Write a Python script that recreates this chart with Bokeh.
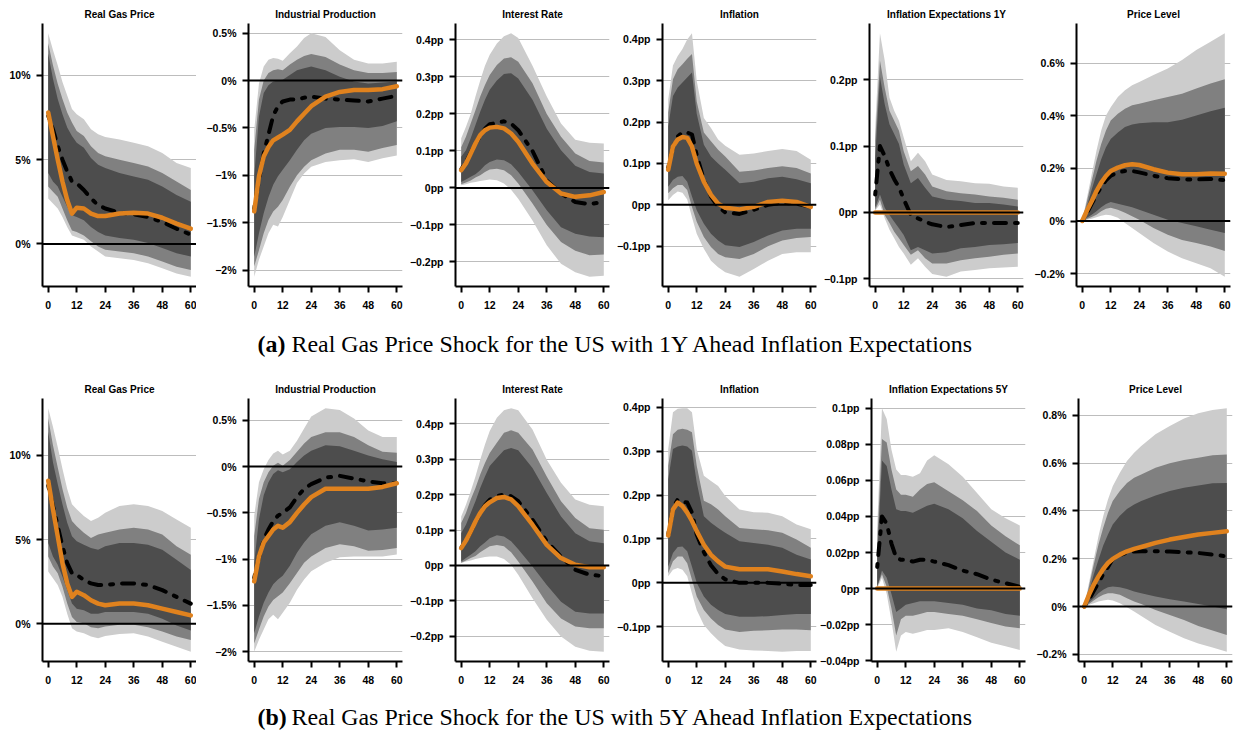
from bokeh.plotting import figure
from bokeh.layouts import column, row
from bokeh.models import Range1d, FixedTicker, Span
from bokeh.embed import file_html
from bokeh.resources import INLINE
from bokeh.core.properties import value

# Horizon (months after the shock)
H = [0, 2, 4, 6, 8, 10, 12, 15, 18, 21, 24, 30, 36, 42, 48, 54, 60]
X_TICKS = [0, 12, 24, 36, 48, 60]

# ---------------- (a) model with 1Y ahead inflation expectations ----------------
gas_1y_hi95 = [12.5, 11.5, 10.6, 9.6, 8.8, 8.0, 7.7, 7.4, 6.8, 6.5, 6.35, 6.2, 6.0, 5.8, 5.4, 4.8, 4.5]
gas_1y_hi90 = [11.9, 10.6, 9.5, 8.6, 7.8, 7.2, 6.7, 6.4, 5.8, 5.4, 5.2, 5.0, 4.8, 4.6, 4.2, 3.7, 3.2]
gas_1y_hi68 = [11.3, 9.8, 8.6, 7.7, 6.9, 6.4, 6.0, 5.7, 5.1, 4.7, 4.5, 4.2, 4.0, 3.8, 3.4, 2.9, 2.5]
gas_1y_lo68 = [4.2, 3.7, 3.4, 2.8, 2.2, 1.7, 1.6, 1.4, 1.0, 0.7, 0.5, 0.35, 0.25, 0.05, -0.25, -0.55, -0.75]
gas_1y_lo90 = [3.4, 3.1, 2.8, 2.1, 1.4, 0.8, 0.7, 0.5, 0.15, -0.15, -0.35, -0.45, -0.55, -0.75, -1.05, -1.35, -1.55]
gas_1y_lo95 = [2.7, 2.4, 2.1, 1.6, 1.0, 0.5, 0.4, 0.25, -0.15, -0.45, -0.75, -0.85, -0.95, -1.15, -1.45, -1.75, -1.95]
gas_1y_med = [7.6, 6.8, 5.8, 5.0, 4.3, 3.7, 3.6, 3.2, 2.7, 2.3, 2.1, 1.85, 1.75, 1.6, 1.3, 0.9, 0.55]
gas_1y_cf = [7.8, 6.4, 5.0, 3.7, 2.6, 1.8, 2.15, 2.1, 1.8, 1.65, 1.65, 1.8, 1.85, 1.8, 1.55, 1.2, 0.9]

ip_1y_hi95 = [-0.52, -0.03, 0.15, 0.22, 0.24, 0.23, 0.21, 0.29, 0.36, 0.45, 0.5, 0.46, 0.32, 0.22, 0.18, 0.18, 0.2]
ip_1y_hi90 = [-0.73, -0.2, 0.0, 0.08, 0.11, 0.12, 0.11, 0.17, 0.22, 0.26, 0.28, 0.25, 0.17, 0.11, 0.08, 0.08, 0.09]
ip_1y_hi68 = [-1.01, -0.38, -0.13, -0.05, -0.01, 0.0, 0.01, 0.06, 0.11, 0.13, 0.15, 0.11, 0.04, -0.01, -0.03, -0.02, -0.01]
ip_1y_lo68 = [-1.86, -1.61, -1.40, -1.23, -1.10, -1.01, -0.94, -0.84, -0.73, -0.63, -0.56, -0.50, -0.49, -0.49, -0.50, -0.48, -0.43]
ip_1y_lo90 = [-1.96, -1.79, -1.61, -1.47, -1.38, -1.33, -1.26, -1.12, -1.0, -0.91, -0.84, -0.77, -0.73, -0.73, -0.75, -0.71, -0.68]
ip_1y_lo95 = [-2.07, -1.89, -1.75, -1.61, -1.52, -1.54, -1.44, -1.26, -1.08, -0.98, -0.91, -0.86, -0.84, -0.83, -0.86, -0.82, -0.79]
ip_1y_med = [-1.35, -1.05, -0.77, -0.57, -0.37, -0.27, -0.22, -0.20, -0.20, -0.18, -0.17, -0.19, -0.20, -0.21, -0.22, -0.19, -0.16]
ip_1y_cf = [-1.38, -1.01, -0.80, -0.70, -0.63, -0.60, -0.57, -0.52, -0.43, -0.35, -0.27, -0.17, -0.12, -0.10, -0.10, -0.09, -0.06]

rate_1y_hi95 = [0.134, 0.165, 0.2, 0.247, 0.29, 0.33, 0.36, 0.39, 0.41, 0.418, 0.405, 0.33, 0.247, 0.174, 0.13, 0.122, 0.12]
rate_1y_hi90 = [0.11, 0.138, 0.174, 0.21, 0.247, 0.278, 0.305, 0.332, 0.35, 0.353, 0.341, 0.283, 0.2, 0.138, 0.093, 0.073, 0.069]
rate_1y_hi68 = [0.084, 0.102, 0.134, 0.17, 0.206, 0.238, 0.265, 0.29, 0.308, 0.31, 0.296, 0.238, 0.16, 0.102, 0.06, 0.043, 0.039]
rate_1y_lo68 = [0.016, 0.023, 0.03, 0.037, 0.048, 0.061, 0.07, 0.077, 0.075, 0.064, 0.043, -0.006, -0.06, -0.106, -0.124, -0.131, -0.133]
rate_1y_lo90 = [0.01, 0.015, 0.02, 0.028, 0.034, 0.043, 0.05, 0.052, 0.048, 0.034, 0.012, -0.042, -0.1, -0.146, -0.17, -0.182, -0.18]
rate_1y_lo95 = [0.007, 0.01, 0.014, 0.016, 0.019, 0.021, 0.023, 0.021, 0.012, -0.005, -0.029, -0.088, -0.155, -0.205, -0.228, -0.24, -0.237]
rate_1y_med = [0.05, 0.07, 0.095, 0.12, 0.14, 0.16, 0.172, 0.176, 0.18, 0.174, 0.156, 0.1, 0.02, -0.015, -0.038, -0.044, -0.037]
rate_1y_cf = [0.048, 0.066, 0.093, 0.12, 0.143, 0.156, 0.163, 0.165, 0.161, 0.147, 0.125, 0.066, 0.016, -0.015, -0.024, -0.02, -0.011]

infl_1y_hi95 = [0.255, 0.337, 0.36, 0.377, 0.4, 0.415, 0.30, 0.21, 0.186, 0.158, 0.143, 0.121, 0.124, 0.13, 0.135, 0.13, 0.109]
infl_1y_hi90 = [0.223, 0.304, 0.328, 0.34, 0.353, 0.365, 0.25, 0.175, 0.154, 0.133, 0.117, 0.08, 0.083, 0.089, 0.093, 0.089, 0.076]
infl_1y_hi68 = [0.19, 0.263, 0.284, 0.296, 0.308, 0.32, 0.22, 0.145, 0.117, 0.1, 0.085, 0.052, 0.056, 0.064, 0.068, 0.062, 0.052]
infl_1y_lo68 = [0.044, 0.06, 0.068, 0.07, 0.056, 0.02, -0.013, -0.046, -0.07, -0.086, -0.098, -0.102, -0.09, -0.074, -0.062, -0.058, -0.058]
infl_1y_lo90 = [0.028, 0.04, 0.048, 0.048, 0.036, -0.005, -0.041, -0.078, -0.102, -0.119, -0.127, -0.131, -0.119, -0.1, -0.086, -0.08, -0.078]
infl_1y_lo95 = [0.011, 0.024, 0.032, 0.029, 0.013, -0.03, -0.07, -0.106, -0.135, -0.151, -0.163, -0.174, -0.155, -0.135, -0.119, -0.115, -0.115]
infl_1y_med = [0.09, 0.14, 0.165, 0.175, 0.175, 0.17, 0.12, 0.06, 0.02, -0.005, -0.018, -0.022, -0.012, 0.0, 0.005, 0.003, -0.005]
infl_1y_cf = [0.085, 0.141, 0.158, 0.164, 0.162, 0.141, 0.1, 0.056, 0.024, 0.003, -0.007, -0.011, -0.005, 0.007, 0.01, 0.007, -0.005]

exp_1y_hi95 = [0.128, 0.27, 0.229, 0.173, 0.153, 0.138, 0.113, 0.077, 0.09, 0.077, 0.057, 0.049, 0.047, 0.044, 0.043, 0.039, 0.037]
exp_1y_hi90 = [0.108, 0.229, 0.188, 0.153, 0.138, 0.123, 0.092, 0.062, 0.07, 0.057, 0.039, 0.032, 0.029, 0.027, 0.024, 0.022, 0.019]
exp_1y_hi68 = [0.082, 0.204, 0.163, 0.133, 0.118, 0.103, 0.072, 0.044, 0.052, 0.037, 0.024, 0.019, 0.017, 0.014, 0.014, 0.012, 0.009]
exp_1y_lo68 = [0.007, 0.027, 0.007, -0.004, -0.014, -0.024, -0.034, -0.057, -0.052, -0.057, -0.062, -0.06, -0.054, -0.052, -0.049, -0.048, -0.046]
exp_1y_lo90 = [0.004, 0.019, -0.004, -0.016, -0.029, -0.039, -0.049, -0.064, -0.057, -0.069, -0.077, -0.077, -0.072, -0.069, -0.067, -0.064, -0.062]
exp_1y_lo95 = [0.003, 0.012, -0.009, -0.026, -0.039, -0.052, -0.062, -0.079, -0.069, -0.082, -0.093, -0.097, -0.089, -0.087, -0.084, -0.083, -0.082]
exp_1y_med = [0.027, 0.1, 0.085, 0.065, 0.05, 0.038, 0.02, -0.004, -0.009, -0.014, -0.018, -0.022, -0.019, -0.016, -0.016, -0.016, -0.016]
exp_1y_cf = [0.0, 0.0, 0.0, 0.0, 0.0, 0.0, 0.0, 0.0, 0.0, 0.0, 0.0, 0.0, 0.0, 0.0, 0.0, 0.0, 0.0]

price_1y_hi95 = [0.0, 0.088, 0.178, 0.267, 0.344, 0.401, 0.433, 0.472, 0.497, 0.516, 0.529, 0.555, 0.58, 0.612, 0.65, 0.682, 0.714]
price_1y_hi90 = [0.0, 0.075, 0.152, 0.229, 0.293, 0.344, 0.382, 0.408, 0.427, 0.44, 0.446, 0.459, 0.472, 0.484, 0.504, 0.523, 0.539]
price_1y_hi68 = [0.0, 0.056, 0.12, 0.178, 0.235, 0.28, 0.312, 0.337, 0.357, 0.367, 0.372, 0.376, 0.376, 0.385, 0.401, 0.417, 0.431]
price_1y_lo68 = [0.0, 0.012, 0.024, 0.037, 0.052, 0.065, 0.072, 0.066, 0.059, 0.052, 0.043, 0.024, 0.005, -0.008, -0.02, -0.033, -0.046]
price_1y_lo90 = [0.0, 0.008, 0.015, 0.024, 0.037, 0.047, 0.05, 0.043, 0.031, 0.018, 0.005, -0.027, -0.052, -0.072, -0.084, -0.097, -0.114]
price_1y_lo95 = [0.0, 0.005, 0.009, 0.014, 0.02, 0.024, 0.022, 0.012, -0.008, -0.027, -0.046, -0.084, -0.116, -0.142, -0.161, -0.18, -0.212]
price_1y_med = [0.0, 0.03, 0.065, 0.1, 0.13, 0.155, 0.172, 0.185, 0.19, 0.19, 0.185, 0.172, 0.163, 0.158, 0.158, 0.16, 0.155]
price_1y_cf = [0.0, 0.04, 0.075, 0.114, 0.146, 0.171, 0.19, 0.203, 0.212, 0.216, 0.213, 0.197, 0.184, 0.178, 0.178, 0.181, 0.18]

# ---------------- (b) model with 5Y ahead inflation expectations ----------------
gas_5y_hi95 = [12.8, 11.7, 10.5, 9.2, 8.0, 7.1, 6.8, 6.4, 6.1, 6.3, 6.6, 7.0, 7.1, 7.0, 6.7, 6.2, 5.7]
gas_5y_hi90 = [12.2, 10.6, 9.3, 8.0, 6.9, 6.1, 5.8, 5.4, 5.1, 5.3, 5.4, 5.6, 5.7, 5.6, 5.3, 4.6, 4.1]
gas_5y_hi68 = [11.4, 9.6, 8.3, 7.1, 6.0, 5.2, 4.9, 4.7, 4.5, 4.4, 4.6, 4.8, 4.8, 4.7, 4.4, 3.8, 3.2]
gas_5y_lo68 = [4.8, 4.0, 3.5, 2.8, 2.0, 1.2, 0.9, 0.8, 0.6, 0.6, 0.7, 0.7, 0.7, 0.6, 0.3, -0.1, -0.4]
gas_5y_lo90 = [4.0, 3.4, 3.0, 2.2, 1.2, 0.4, 0.1, 0.04, -0.2, -0.26, -0.16, -0.06, -0.06, -0.2, -0.46, -0.76, -0.96]
gas_5y_lo95 = [3.1, 2.7, 2.3, 1.6, 0.6, -0.26, -0.46, -0.56, -0.76, -0.86, -0.72, -0.6, -0.56, -0.76, -1.06, -1.36, -1.66]
gas_5y_med = [8.2, 7.0, 5.8, 4.6, 3.6, 3.0, 2.9, 2.6, 2.4, 2.3, 2.3, 2.4, 2.4, 2.3, 2.0, 1.6, 1.2]
gas_5y_cf = [8.5, 6.8, 5.2, 3.6, 2.4, 1.6, 1.9, 1.7, 1.4, 1.2, 1.1, 1.2, 1.2, 1.1, 0.9, 0.7, 0.5]

ip_5y_hi95 = [-0.53, -0.17, -0.03, 0.07, 0.14, 0.17, 0.13, 0.17, 0.28, 0.41, 0.54, 0.63, 0.61, 0.52, 0.39, 0.32, 0.32]
ip_5y_hi90 = [-0.75, -0.35, -0.17, -0.06, 0.01, 0.04, 0.01, 0.07, 0.16, 0.25, 0.32, 0.37, 0.37, 0.32, 0.23, 0.16, 0.15]
ip_5y_hi68 = [-1.04, -0.57, -0.31, -0.17, -0.08, -0.04, -0.06, -0.03, 0.05, 0.12, 0.17, 0.23, 0.22, 0.17, 0.12, 0.08, 0.05]
ip_5y_lo68 = [-1.80, -1.62, -1.47, -1.36, -1.27, -1.22, -1.18, -1.07, -0.93, -0.82, -0.73, -0.64, -0.60, -0.64, -0.69, -0.68, -0.66]
ip_5y_lo90 = [-1.91, -1.76, -1.62, -1.51, -1.44, -1.40, -1.36, -1.26, -1.15, -1.04, -0.97, -0.88, -0.84, -0.86, -0.91, -0.90, -0.88]
ip_5y_lo95 = [-2.0, -1.87, -1.76, -1.65, -1.6, -1.65, -1.58, -1.47, -1.33, -1.22, -1.13, -1.04, -0.98, -0.97, -0.97, -0.97, -0.95]
ip_5y_med = [-1.2, -0.98, -0.79, -0.68, -0.59, -0.53, -0.50, -0.44, -0.33, -0.24, -0.19, -0.12, -0.10, -0.13, -0.16, -0.18, -0.18]
ip_5y_cf = [-1.24, -0.97, -0.82, -0.75, -0.68, -0.64, -0.66, -0.60, -0.50, -0.41, -0.33, -0.24, -0.24, -0.24, -0.24, -0.22, -0.18]

rate_5y_hi95 = [0.138, 0.171, 0.209, 0.251, 0.298, 0.341, 0.379, 0.416, 0.437, 0.443, 0.437, 0.383, 0.298, 0.233, 0.186, 0.171, 0.167]
rate_5y_hi90 = [0.12, 0.148, 0.186, 0.218, 0.256, 0.289, 0.317, 0.346, 0.374, 0.381, 0.374, 0.327, 0.251, 0.181, 0.134, 0.105, 0.101]
rate_5y_hi68 = [0.091, 0.115, 0.148, 0.181, 0.218, 0.251, 0.28, 0.303, 0.325, 0.331, 0.325, 0.275, 0.204, 0.138, 0.091, 0.068, 0.063]
rate_5y_lo68 = [0.011, 0.021, 0.03, 0.04, 0.054, 0.065, 0.077, 0.085, 0.082, 0.068, 0.046, -0.003, -0.055, -0.102, -0.13, -0.135, -0.135]
rate_5y_lo90 = [0.008, 0.014, 0.021, 0.027, 0.037, 0.046, 0.054, 0.058, 0.054, 0.037, 0.011, -0.045, -0.106, -0.149, -0.172, -0.177, -0.177]
rate_5y_lo95 = [0.007, 0.011, 0.014, 0.018, 0.021, 0.024, 0.025, 0.025, 0.018, 0.002, -0.026, -0.092, -0.153, -0.2, -0.229, -0.24, -0.243]
rate_5y_med = [0.05, 0.07, 0.095, 0.122, 0.148, 0.17, 0.185, 0.195, 0.2, 0.195, 0.181, 0.129, 0.068, 0.025, -0.012, -0.026, -0.03]
rate_5y_cf = [0.049, 0.07, 0.096, 0.124, 0.148, 0.167, 0.178, 0.19, 0.193, 0.186, 0.167, 0.115, 0.058, 0.021, 0.002, -0.005, -0.005]

infl_5y_hi95 = [0.305, 0.389, 0.397, 0.398, 0.398, 0.389, 0.305, 0.244, 0.232, 0.221, 0.198, 0.167, 0.161, 0.16, 0.152, 0.133, 0.122]
infl_5y_hi90 = [0.267, 0.339, 0.349, 0.351, 0.349, 0.343, 0.267, 0.187, 0.179, 0.167, 0.152, 0.125, 0.122, 0.12, 0.114, 0.099, 0.08]
infl_5y_hi68 = [0.236, 0.305, 0.311, 0.313, 0.311, 0.301, 0.229, 0.152, 0.137, 0.125, 0.114, 0.095, 0.091, 0.087, 0.08, 0.064, 0.053]
infl_5y_lo68 = [0.037, 0.068, 0.082, 0.083, 0.072, 0.037, 0.0, -0.031, -0.05, -0.062, -0.071, -0.077, -0.077, -0.076, -0.073, -0.071, -0.071]
infl_5y_lo90 = [0.022, 0.049, 0.06, 0.06, 0.045, 0.007, -0.031, -0.062, -0.081, -0.096, -0.106, -0.112, -0.109, -0.108, -0.106, -0.106, -0.108]
infl_5y_lo95 = [0.015, 0.03, 0.034, 0.03, 0.015, -0.024, -0.062, -0.096, -0.115, -0.131, -0.144, -0.152, -0.154, -0.155, -0.157, -0.155, -0.155]
infl_5y_med = [0.11, 0.17, 0.19, 0.185, 0.183, 0.16, 0.11, 0.07, 0.04, 0.02, 0.008, 0.0, 0.0, 0.0, -0.002, -0.005, -0.005]
infl_5y_cf = [0.108, 0.167, 0.183, 0.175, 0.16, 0.141, 0.118, 0.087, 0.064, 0.049, 0.037, 0.031, 0.031, 0.031, 0.026, 0.02, 0.015]

exp_5y_hi95 = [0.034, 0.1, 0.094, 0.077, 0.066, 0.063, 0.063, 0.062, 0.064, 0.071, 0.074, 0.069, 0.062, 0.053, 0.044, 0.039, 0.035]
exp_5y_hi90 = [0.025, 0.083, 0.081, 0.066, 0.055, 0.052, 0.052, 0.051, 0.055, 0.058, 0.059, 0.054, 0.049, 0.043, 0.035, 0.029, 0.024]
exp_5y_hi68 = [0.017, 0.071, 0.068, 0.055, 0.044, 0.043, 0.043, 0.042, 0.044, 0.046, 0.047, 0.044, 0.039, 0.032, 0.026, 0.02, 0.016]
exp_5y_lo68 = [0.001, 0.01, 0.006, -0.003, -0.013, -0.011, -0.009, -0.008, -0.007, -0.007, -0.007, -0.008, -0.009, -0.011, -0.012, -0.014, -0.015]
exp_5y_lo90 = [0.001, 0.008, 0.001, -0.011, -0.026, -0.017, -0.015, -0.015, -0.014, -0.013, -0.013, -0.014, -0.015, -0.017, -0.019, -0.021, -0.022]
exp_5y_lo95 = [0.0, 0.006, -0.003, -0.018, -0.035, -0.026, -0.024, -0.025, -0.024, -0.023, -0.023, -0.022, -0.024, -0.027, -0.03, -0.032, -0.034]
exp_5y_med = [0.012, 0.04, 0.036, 0.025, 0.017, 0.016, 0.016, 0.015, 0.016, 0.016, 0.015, 0.013, 0.01, 0.008, 0.005, 0.003, 0.001]
exp_5y_cf = [0.0, 0.0, 0.0, 0.0, 0.0, 0.0, 0.0, 0.0, 0.0, 0.0, 0.0, 0.0, 0.0, 0.0, 0.0, 0.0, 0.0]

price_5y_hi95 = [0.0, 0.098, 0.196, 0.294, 0.378, 0.448, 0.503, 0.559, 0.608, 0.643, 0.671, 0.72, 0.755, 0.786, 0.808, 0.822, 0.829]
price_5y_hi90 = [0.0, 0.084, 0.175, 0.259, 0.329, 0.392, 0.441, 0.483, 0.517, 0.538, 0.552, 0.58, 0.599, 0.613, 0.622, 0.632, 0.636]
price_5y_hi68 = [0.0, 0.063, 0.133, 0.196, 0.255, 0.301, 0.343, 0.38, 0.408, 0.427, 0.441, 0.464, 0.483, 0.497, 0.506, 0.515, 0.517]
price_5y_lo68 = [0.0, 0.017, 0.035, 0.056, 0.07, 0.081, 0.084, 0.081, 0.073, 0.063, 0.056, 0.042, 0.031, 0.021, 0.011, 0.0, -0.011]
price_5y_lo90 = [0.0, 0.011, 0.025, 0.039, 0.049, 0.056, 0.056, 0.049, 0.035, 0.021, 0.011, -0.014, -0.035, -0.056, -0.081, -0.1, -0.119]
price_5y_lo95 = [0.0, 0.007, 0.014, 0.021, 0.025, 0.028, 0.025, 0.014, -0.003, -0.021, -0.039, -0.077, -0.105, -0.133, -0.154, -0.171, -0.189]
price_5y_med = [0.0, 0.03, 0.065, 0.1, 0.135, 0.165, 0.199, 0.215, 0.225, 0.23, 0.231, 0.231, 0.23, 0.227, 0.224, 0.217, 0.21]
price_5y_cf = [0.0, 0.049, 0.091, 0.126, 0.157, 0.182, 0.199, 0.217, 0.231, 0.241, 0.249, 0.266, 0.28, 0.291, 0.301, 0.308, 0.315]

# y-axis tick values per panel
ticks_gas = [0, 5, 10]
ticks_ip = [-2, -1.5, -1, -0.5, 0, 0.5]
ticks_rate = [-0.2, -0.1, 0, 0.1, 0.2, 0.3, 0.4]
ticks_infl = [-0.1, 0, 0.1, 0.2, 0.3, 0.4]
ticks_exp_1y = [-0.1, 0, 0.1, 0.2]
ticks_price_1y = [-0.2, 0, 0.2, 0.4, 0.6]
ticks_exp_5y = [-0.04, -0.02, 0, 0.02, 0.04, 0.06, 0.08, 0.1]
ticks_price_5y = [-0.2, 0, 0.2, 0.4, 0.6, 0.8]

LIGHT = "#cccccc"
MID = "#808080"
DARK = "#4d4d4d"
ORANGE = "#e0821e"
SANS = "Liberation Sans"
SERIF = "Liberation Serif"


def tick_label(v, unit):
    return f"{v:g}".replace("-", "\u2212") + unit


def panel(title, unit, yticks, bands, med, cf, left, right):
    hi95, hi90, hi68, lo68, lo90, lo95 = bands
    vals = hi95 + lo95 + med + cf
    lo, hi = min(vals), max(vals)
    pad = 0.04 * (hi - lo)
    p = figure(frame_width=154, frame_height=263,
               x_range=Range1d(-2.4, 62.4), y_range=Range1d(lo - pad, hi + pad),
               output_backend="svg", toolbar_location=None,
               min_border_left=left, min_border_right=right,
               min_border_top=23, min_border_bottom=30,
               background_fill_color="white", border_fill_color="white",
               outline_line_color=None)
    p.title.text = title
    p.title.align = "center"
    p.title.text_font = SANS
    p.title.text_font_style = "bold"
    p.title.text_font_size = "10px"
    p.title.text_color = "black"
    p.title.standoff = 7

    p.varea(x=H, y1=lo95, y2=hi95, fill_color=LIGHT)
    p.varea(x=H, y1=lo90, y2=hi90, fill_color=MID)
    p.varea(x=H, y1=lo68, y2=hi68, fill_color=DARK)
    p.line(H, med, line_color="black", line_width=4, line_dash="3 9 12 9",
           line_cap="round", line_join="round")
    p.line(H, cf, line_color=ORANGE, line_width=4.5, line_cap="round", line_join="round")
    p.add_layout(Span(location=0, dimension="width", line_color="black", line_width=2))

    for ax, ticks in ((p.xaxis[0], X_TICKS), (p.yaxis[0], yticks)):
        ax.ticker = FixedTicker(ticks=ticks)
        ax.axis_line_width = 2
        ax.axis_line_color = "black"
        ax.major_tick_line_width = 2
        ax.major_tick_line_color = "black"
        ax.major_tick_out = 6
        ax.major_tick_in = 0
        ax.minor_tick_line_color = None
        ax.major_label_text_font = SANS
        ax.major_label_text_font_style = "bold"
        ax.major_label_text_font_size = "10.5px"
        ax.major_label_text_color = "black"
    p.xaxis.major_label_standoff = 8
    p.yaxis.major_label_standoff = 6
    p.yaxis.major_label_overrides = {v: tick_label(v, unit) for v in yticks}

    p.xgrid.visible = False
    p.ygrid.ticker = FixedTicker(ticks=yticks)
    p.ygrid.grid_line_color = "#bdbdbd"
    p.ygrid.grid_line_width = 1
    return p


def caption(tag, text, height, ymid):
    c = figure(frame_width=1236, frame_height=height,
               x_range=Range1d(0, 1236), y_range=Range1d(0, height),
               output_backend="svg", toolbar_location=None,
               x_axis_type=None, y_axis_type=None,
               min_border_left=0, min_border_right=0, min_border_top=0, min_border_bottom=0,
               outline_line_color=None)
    c.text(x=[257], y=[ymid], text=[tag], text_font=value(SERIF), text_font_style="bold",
           text_font_size="23.9px", text_baseline="middle", text_align="left", text_color="black")
    c.text(x=[291], y=[ymid], text=[text], text_font=value(SERIF), text_font_style="normal",
           text_font_size="23.9px", text_baseline="middle", text_align="left", text_color="black")
    return c


def bands(prefix):
    g = globals()
    return [g[f"{prefix}_{k}"] for k in ("hi95", "hi90", "hi68", "lo68", "lo90", "lo95")]


def panel_row(sfx, exp_title, exp_ticks, price_ticks):
    specs = [
        ("Real Gas Price", "%", ticks_gas, "gas"),
        ("Industrial Production", "%", ticks_ip, "ip"),
        ("Interest Rate", "pp", ticks_rate, "rate"),
        ("Inflation", "pp", ticks_infl, "infl"),
        (exp_title, "pp", exp_ticks, "exp"),
        ("Price Level", "%", price_ticks, "price"),
    ]
    g = globals()
    figs = []
    for i, (title, unit, ticks, key) in enumerate(specs):
        pre = f"{key}_{sfx}"
        left = 42 if i == 0 else 52
        right = 0 if i == 0 else (5 if i == 5 else 1)
        figs.append(panel(title, unit, ticks, bands(pre), g[pre + "_med"], g[pre + "_cf"], left, right))
    return row(*figs)


row_a = panel_row("1y", "Inflation Expectations 1Y", ticks_exp_1y, ticks_price_1y)
cap_a = caption("(a)", "Real Gas Price Shock for the US with 1Y Ahead Inflation Expectations", 59, 32)
row_b = panel_row("5y", "Inflation Expectations 5Y", ticks_exp_5y, ticks_price_5y)
cap_b = caption("(b)", "Real Gas Price Shock for the US with 5Y Ahead Inflation Expectations", 41, 16)

page = column(row_a, cap_a, row_b, cap_b)
open("out.html", "w").write(file_html(page, INLINE))
